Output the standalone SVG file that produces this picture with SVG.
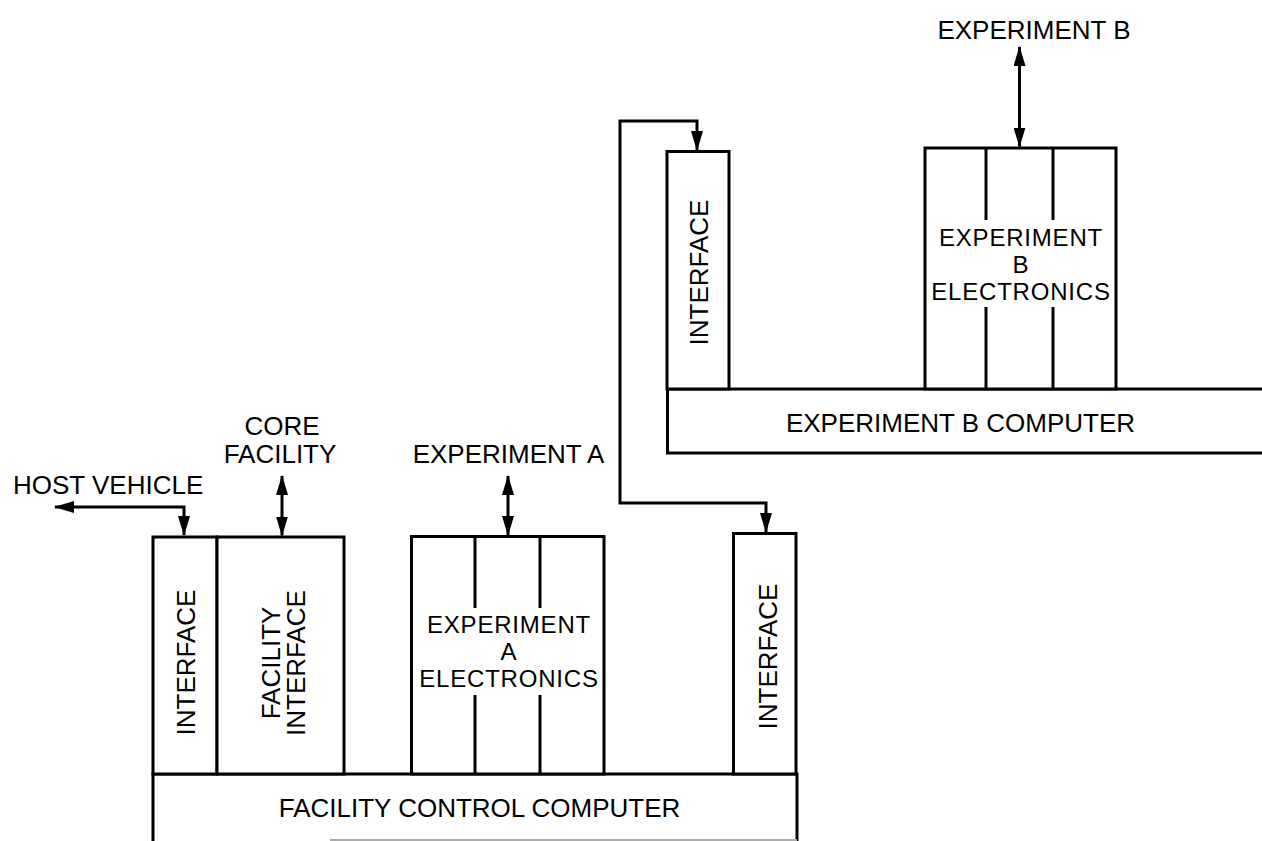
<svg xmlns="http://www.w3.org/2000/svg" width="1262" height="841" viewBox="0 0 1262 841">
<style>
.box{fill:#fff;stroke:#000;stroke-width:3}
.ln{fill:none;stroke:#000;stroke-width:3}
.t{font-family:"Liberation Sans",Arial,sans-serif;font-size:26px;fill:#000;text-anchor:middle}
.ts{text-anchor:start}
.st{font-size:24px;letter-spacing:0.8px}
</style>
<defs>
<marker id="ah" markerUnits="userSpaceOnUse" markerWidth="20" markerHeight="12" refX="19" refY="6" orient="auto-start-reverse">
<path d="M0,0 L20,6 L0,12 Z" fill="#000"/>
</marker>
</defs>
<rect width="1262" height="841" fill="#fff"/>

<g id="facility-control-computer">
<path class="ln" d="M153,850 V774 H797 V850"/>
<line x1="330" y1="840" x2="797" y2="840" stroke="#aaa" stroke-width="2"/>
<text class="t" x="479.5" y="817">FACILITY CONTROL COMPUTER</text>
</g>

<g id="interface-host">
<rect class="box" x="153" y="537" width="64" height="237"/>
<text class="t" transform="translate(195,662.5) rotate(-90)">INTERFACE</text>
</g>

<g id="facility-interface">
<rect class="box" x="217" y="537" width="127" height="237"/>
<text class="t" transform="translate(280,663) rotate(-90)"><tspan x="0" y="0">FACILITY</tspan><tspan x="0" y="25">INTERFACE</tspan></text>
</g>

<g id="experiment-a-electronics">
<rect class="box" x="411.5" y="536.5" width="192.5" height="237.5"/>
<line class="ln" x1="475" y1="536.5" x2="475" y2="608"/>
<line class="ln" x1="540" y1="536.5" x2="540" y2="608"/>
<line class="ln" x1="475" y1="695" x2="475" y2="774"/>
<line class="ln" x1="540" y1="695" x2="540" y2="774"/>
<text class="t st"><tspan x="509" y="633">EXPERIMENT</tspan><tspan x="509" y="660">A</tspan><tspan x="509" y="687">ELECTRONICS</tspan></text>
</g>

<g id="interface-b-link">
<rect class="box" x="733.5" y="533.5" width="62.5" height="240.5"/>
<text class="t" transform="translate(777,656.5) rotate(-90)">INTERFACE</text>
</g>

<g id="experiment-b-computer">
<rect class="box" x="667.5" y="389" width="620" height="64"/>
<text class="t" x="960.5" y="431.5">EXPERIMENT B COMPUTER</text>
</g>

<g id="interface-b">
<rect class="box" x="667" y="151.5" width="62" height="237.5"/>
<text class="t" transform="translate(708,272.5) rotate(-90)">INTERFACE</text>
</g>

<g id="experiment-b-electronics">
<rect class="box" x="925" y="148" width="191" height="241"/>
<line class="ln" x1="986" y1="148" x2="986" y2="220"/>
<line class="ln" x1="1053" y1="148" x2="1053" y2="220"/>
<line class="ln" x1="986" y1="307" x2="986" y2="389"/>
<line class="ln" x1="1053" y1="307" x2="1053" y2="389"/>
<text class="t st"><tspan x="1021" y="246">EXPERIMENT</tspan><tspan x="1021" y="273">B</tspan><tspan x="1021" y="300">ELECTRONICS</tspan></text>
</g>

<g id="labels">
<text class="t" x="1034" y="39">EXPERIMENT B</text>
<text class="t"><tspan x="282" y="435">CORE</tspan><tspan x="280" y="463">FACILITY</tspan></text>
<text class="t" x="508.5" y="463">EXPERIMENT A</text>
<text class="t ts" x="13" y="494">HOST VEHICLE</text>
</g>

<g id="connectors">
<path class="ln" d="M55,507 H184 V535" marker-start="url(#ah)" marker-end="url(#ah)"/>
<path class="ln" d="M282,476 V535.5" marker-start="url(#ah)" marker-end="url(#ah)"/>
<path class="ln" d="M508,476 V535" marker-start="url(#ah)" marker-end="url(#ah)"/>
<path class="ln" d="M766,532 V503 H620 V121 H697 V150" marker-start="url(#ah)" marker-end="url(#ah)"/>
<path class="ln" d="M1019.5,47 V146.5" marker-start="url(#ah)" marker-end="url(#ah)"/>
</g>
</svg>
